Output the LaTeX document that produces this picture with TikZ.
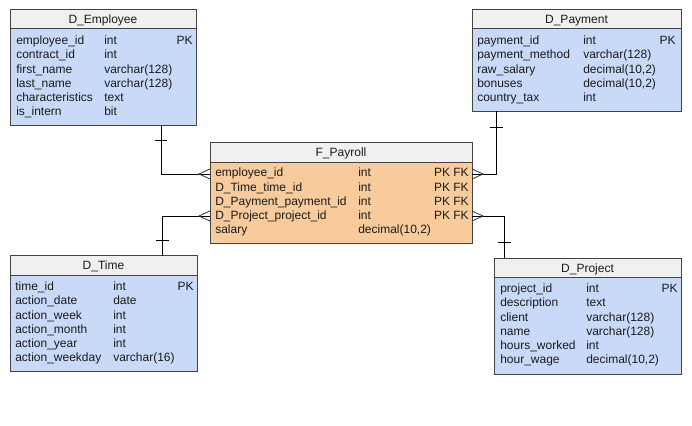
\documentclass[tikz,border=0pt]{standalone}
\usepackage{fontspec}
\setmainfont{Liberation Sans}
\usetikzlibrary{calc}
\definecolor{bodyblue}{HTML}{C9DAF8}
\definecolor{bodyorange}{HTML}{F8CB9C}
\definecolor{hdrgrey}{HTML}{F0F0F0}
\definecolor{bordergrey}{HTML}{444444}
\definecolor{txtcol}{HTML}{1A1A1A}
\newcommand\ertable[8]{%
  \node[tbl, fill=#7, minimum width=#4*0.75pt, minimum height=#5*0.75pt] (#1) at (#2,#3) {};
  \draw[draw=bordergrey, fill=hdrgrey, line width=0.75pt] (#1.north west) rectangle ($(#1.north east)+(0,#6)$);
  \node[txt] (#1-title) at ($(#1.north)+(0,#6/2)$) {#8};
}
\newcommand\errows[6]{%
  \foreach[count=\i] \n/\t/\k in {#6}{
    \node[txt, anchor=west] (#1-n\i) at (#2,{#5+(\i-1)*14.2}) {\n};
    \node[txt, anchor=west] (#1-t\i) at (#3,{#5+(\i-1)*14.2}) {\t};
    \node[txt, anchor=east] (#1-k\i) at (#4,{#5+(\i-1)*14.2}) {\k};
  }%
}
\begin{document}
\begin{tikzpicture}[x=0.75pt,y=-0.75pt,
  tbl/.style={draw=bordergrey, line width=0.75pt, anchor=north west, inner sep=0pt, outer sep=0pt},
  txt/.style={inner sep=0pt, text=txtcol, font=\fontsize{9}{10}\selectfont, text height=6.6pt, text depth=1.9pt, yshift=-1.1pt},
  conn/.style={draw=black, line width=0.75pt},
  crow/.style={draw=black!80, line width=0.6pt},
  ]
\useasboundingbox[fill=white] (0,0) rectangle (692,425);

% tables
\ertable{emp}{10}{9.5}{186}{116}{19}{bodyblue}{D\_Employee}
\errows{emp}{16}{104}{193}{40}{employee\_id/int/PK, contract\_id/int/{}, first\_name/varchar(128)/{}, last\_name/varchar(128)/{}, characteristics/text/{}, is\_intern/bit/{}}

\ertable{paym}{472}{9.5}{209}{101.5}{19}{bodyblue}{D\_Payment}
\errows{paym}{477}{583}{676}{40}{payment\_id/int/PK, payment\_method/varchar(128)/{}, raw\_salary/{decimal(10,2)}/{}, bonuses/{decimal(10,2)}/{}, country\_tax/int/{}}

\ertable{fact}{210}{142}{262}{101}{20}{bodyorange}{F\_Payroll}
\errows{fact}{215}{358}{469}{172.3}{employee\_id/int/PK FK, D\_Time\_time\_id/int/PK FK, D\_Payment\_payment\_id/int/PK FK, D\_Project\_project\_id/int/PK FK, salary/{decimal(10,2)}/{}}

\ertable{time}{10}{255.5}{187}{115.5}{19.5}{bodyblue}{D\_Time}
\errows{time}{15}{113}{194}{286}{time\_id/int/PK, action\_date/date/{}, action\_week/int/{}, action\_month/int/{}, action\_year/int/{}, action\_weekday/varchar(16)/{}}

\ertable{proj}{494}{258}{187}{116}{19}{bodyblue}{D\_Project}
\errows{proj}{500}{586}{678}{288}{project\_id/int/PK, description/text/{}, client/varchar(128)/{}, name/varchar(128)/{}, hours\_worked/int/{}, hour\_wage/{decimal(10,2)}/{}}

% connector endpoints
\coordinate (e-src) at ($(emp.south west)+(151,0)$);
\coordinate (e-dst) at ($(fact.north west)+(0,32)$);
\coordinate (t-src) at ($(time.north west)+(152,0)$);
\coordinate (t-dst) at ($(fact.north west)+(0,74)$);
\coordinate (p-src) at ($(paym.south west)+(24,0)$);
\coordinate (p-dst) at ($(fact.north east)+(0,32)$);
\coordinate (r-src) at ($(proj.north west)+(10,0)$);
\coordinate (r-dst) at ($(fact.north east)+(0,74)$);

% connectors
\draw[conn] (e-src) |- (e-dst);
\draw[conn] (t-src) |- (t-dst);
\draw[conn] (p-src) |- (p-dst);
\draw[conn] (r-src) |- (r-dst);

% "one" ticks
\draw[conn] ($(e-src)+(-6,14.5)$) -- ($(e-src)+(6,14.5)$);
\draw[conn] ($(t-src)+(-6.5,-14.8)$) -- ($(t-src)+(6.5,-14.8)$);
\draw[conn] ($(p-src)+(-6.5,16)$) -- ($(p-src)+(6.5,16)$);
\draw[conn] ($(r-src)+(-6.5,-15.3)$) -- ($(r-src)+(6.5,-15.3)$);

% crow's feet
\draw[crow] ($(e-dst)+(0,-5)$) -- ($(e-dst)+(-11,0)$) -- ($(e-dst)+(0,5)$);
\draw[crow] ($(t-dst)+(0,-5)$) -- ($(t-dst)+(-11,0)$) -- ($(t-dst)+(0,5)$);
\draw[crow] ($(p-dst)+(0,-5)$) -- ($(p-dst)+(11,0)$) -- ($(p-dst)+(0,5)$);
\draw[crow] ($(r-dst)+(0,-5)$) -- ($(r-dst)+(11,0)$) -- ($(r-dst)+(0,5)$);
\end{tikzpicture}
\end{document}
